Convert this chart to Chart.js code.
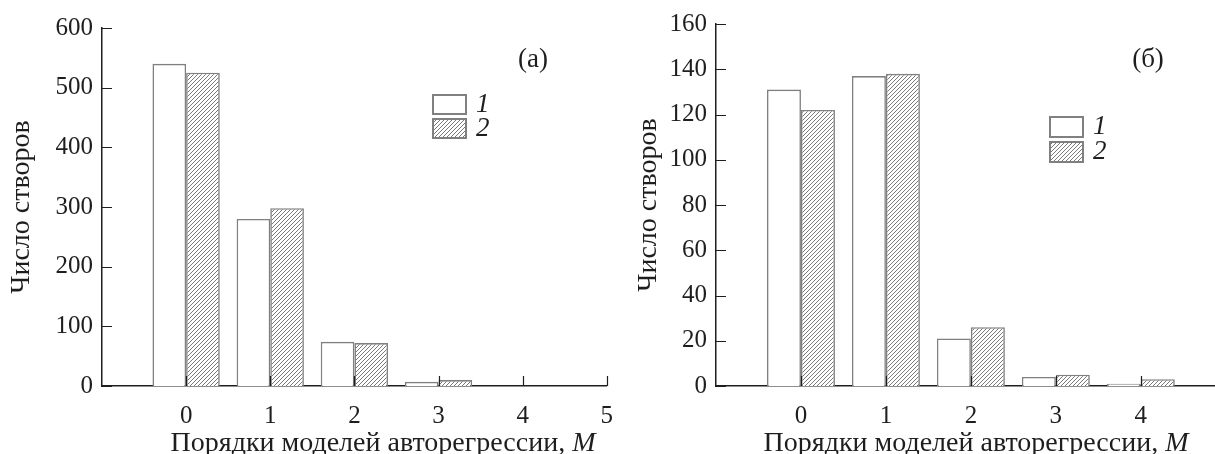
<!DOCTYPE html>
<html>
<head>
<meta charset="utf-8">
<script src="https://cdn.jsdelivr.net/npm/chart.js@4.4.1/dist/chart.umd.min.js"></script>
<style>
  html, body { margin: 0; padding: 0; background: #fff; overflow: hidden; width: 1215px; height: 454px; }
  .wrap { position: absolute; top: 0; height: 454px; }
  #wrapA { left: 0; width: 628px; }
  #wrapB { left: 615px; width: 632px; }
</style>
</head>
<body>
<div class="wrap" id="wrapA"><canvas id="chartA"></canvas></div>
<div class="wrap" id="wrapB"><canvas id="chartB"></canvas></div>
<script>
  // x positions run from -1 (axis start) to 5
  const orders = ['-1', '0', '1', '2', '3', '4', '5'];

  // panel (а)
  const countsA1 = [null, 540, 280, 74, 7, 0, null];
  const countsA2 = [null, 525, 298, 72, 10, 0, null];
  const yTicksA = { max: 600, step: 100 };

  // panel (б)
  const countsB1 = [null, 131, 137, 21, 4, 1, null];
  const countsB2 = [null, 122, 138, 26, 5, 3, null];
  const yTicksB = { max: 160, step: 20 };

  const seriesNames = ['1', '2'];
  const xTitle = 'Порядки моделей авторегрессии, ';
  const yTitle = 'Число створов';

  const FONT = '"Liberation Serif", "DejaVu Serif", serif';
  const INK = '#1e1e1e';
  const EDGE = '#808080';
  const TICK_PX = 25;
  const TITLE_PX = 28;

  function hatch() {
    const c = document.createElement('canvas');
    c.width = 4; c.height = 4;
    const g = c.getContext('2d');
    g.fillStyle = '#fff';
    g.fillRect(0, 0, 4, 4);
    g.strokeStyle = '#6a6a6a';
    g.lineWidth = 0.9;
    g.beginPath();
    g.moveTo(-1, 5); g.lineTo(5, -1);
    g.moveTo(-1, 1); g.lineTo(1, -1);
    g.moveTo(3, 5); g.lineTo(5, 3);
    g.stroke();
    return g.createPattern(c, 'repeat');
  }
  const HATCH = hatch();

  // short ticks pointing into the plot, like the original
  const innerTicks = {
    id: 'innerTicks',
    afterDatasetsDraw(chart) {
      const { ctx, chartArea, scales: { x, y } } = chart;
      ctx.save();
      ctx.strokeStyle = INK;
      ctx.lineWidth = 1.2;
      ctx.beginPath();
      y.ticks.forEach(t => {
        const py = Math.round(y.getPixelForValue(t.value)) + 0.5;
        ctx.moveTo(chartArea.left, py);
        ctx.lineTo(chartArea.left + 10, py);
      });
      x.ticks.forEach((t, i) => {
        if (i === 0) return;
        const px = Math.round(x.getPixelForTick(i)) + 0.5;
        ctx.moveTo(px, chartArea.bottom);
        ctx.lineTo(px, chartArea.bottom - 10);
      });
      ctx.stroke();
      ctx.restore();
    }
  };

  // boxed legend, panel letter and x title with italic M
  const panelDeco = {
    id: 'panelDeco',
    afterDraw(chart, args, opts) {
      const { ctx } = chart;
      ctx.save();
      ctx.fillStyle = INK;
      ctx.textBaseline = 'middle';
      ctx.textAlign = 'center';
      ctx.font = '27px ' + FONT;
      ctx.fillText(opts.tag, opts.tagX, opts.tagY);
      chart.data.datasets.forEach((ds, i) => {
        const bx = opts.legX, by = opts.legY + i * opts.legStep;
        ctx.fillStyle = ds.backgroundColor;
        ctx.fillRect(bx, by, 33, opts.legStep - 5);
        ctx.strokeStyle = EDGE;
        ctx.lineWidth = 2;
        ctx.strokeRect(bx, by, 33, opts.legStep - 5);
        ctx.fillStyle = INK;
        ctx.textAlign = 'left';
        ctx.font = 'italic 27px ' + FONT;
        ctx.fillText(ds.label, bx + 43, by + 10);
      });
      ctx.font = TITLE_PX + 'px ' + FONT;
      const w1 = ctx.measureText(xTitle).width;
      ctx.font = 'italic ' + TITLE_PX + 'px ' + FONT;
      const w2 = ctx.measureText('M').width;
      const sx = opts.titleX - (w1 + w2) / 2;
      ctx.textAlign = 'left';
      ctx.textBaseline = 'alphabetic';
      ctx.font = TITLE_PX + 'px ' + FONT;
      ctx.fillText(xTitle, sx, opts.titleY);
      ctx.font = 'italic ' + TITLE_PX + 'px ' + FONT;
      ctx.fillText('M', sx + w1, opts.titleY);
      ctx.restore();
    }
  };

  function makeChart(id, s1, s2, yt, pad, deco) {
    return new Chart(document.getElementById(id), {
      type: 'bar',
      data: {
        labels: orders,
        datasets: [
          { label: seriesNames[0], data: s1, backgroundColor: '#fff', borderColor: EDGE, borderWidth: 1.6 },
          { label: seriesNames[1], data: s2, backgroundColor: HATCH, borderColor: EDGE, borderWidth: 1.6 },
        ],
      },
      options: {
        responsive: true,
        maintainAspectRatio: false,
        animation: false,
        layout: { autoPadding: false, padding: pad },
        datasets: { bar: { categoryPercentage: 0.8, barPercentage: 1.0 } },
        plugins: {
          legend: { display: false },
          tooltip: { enabled: false },
          panelDeco: deco,
        },
        scales: {
          x: {
            type: 'category',
            offset: false,
            grid: { display: false, drawTicks: false },
            border: { color: INK, width: 1.5 },
            ticks: {
              autoSkip: false, maxRotation: 0, color: INK, padding: 15,
              font: { family: FONT, size: TICK_PX },
              callback: (v, i) => (orders[i] === '-1' ? '' : orders[i]),
            },
            afterFit: s => { s.height = 68; },
          },
          y: {
            min: 0, max: yt.max,
            grid: { display: false, drawTicks: false },
            border: { color: INK, width: 1.5 },
            ticks: { stepSize: yt.step, color: INK, padding: 9, font: { family: FONT, size: TICK_PX } },
            title: {
              display: true, text: yTitle, color: INK,
              font: { family: FONT, size: TITLE_PX },
              padding: { top: deco.yTitlePad, bottom: 0 },
            },
            afterFit: s => { s.width = deco.axisLeft; },
          },
        },
      },
      plugins: [innerTicks, panelDeco],
    });
  }

  makeChart('chartA', countsA1, countsA2, yTicksA, { top: 28, right: 8, left: 0, bottom: 0 },
    { axisLeft: 102, yTitlePad: 5, tag: '(а)', tagX: 533, tagY: 60,
      legX: 433, legY: 95, legStep: 24, titleX: 383, titleY: 451 });
  makeChart('chartB', countsB1, countsB2, yTicksB, { top: 24, right: 5, left: 0, bottom: 0 },
    { axisLeft: 101, yTitlePad: 17, tag: '(б)', tagX: 533, tagY: 60,
      legX: 435, legY: 117, legStep: 25, titleX: 361, titleY: 451 });
</script>
</body>
</html>
